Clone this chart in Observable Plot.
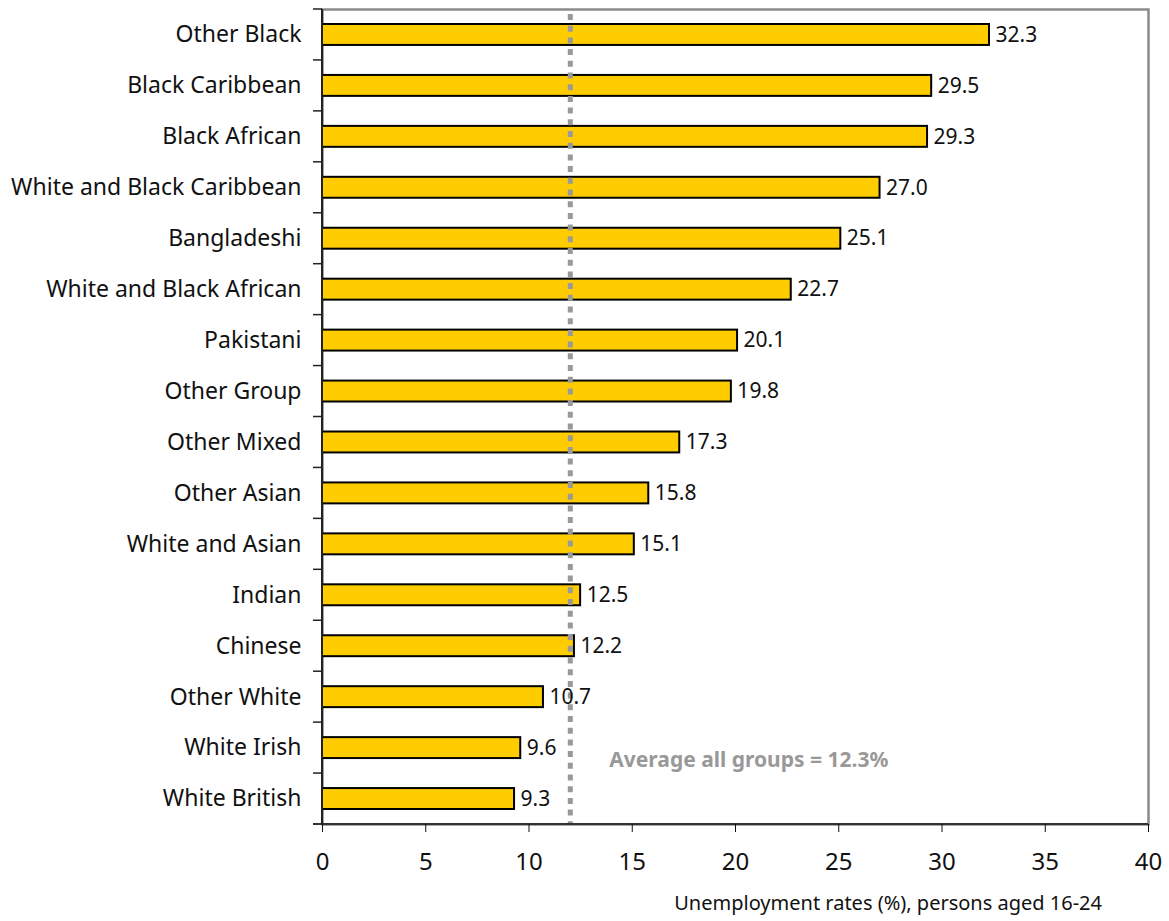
<!DOCTYPE html>
<html><head><meta charset="utf-8">
<script src="https://cdn.jsdelivr.net/npm/d3@7"></script>
<script src="https://cdn.jsdelivr.net/npm/@observablehq/plot@0.6"></script>
<style>
body{margin:0;background:#fff;font-family:"Noto Sans",sans-serif;}
#caption{font-size:20px;color:#111;text-align:right;width:1169px;box-sizing:border-box;padding-right:67px;margin-top:11px;line-height:24px;}
</style></head><body>
<div id="chart"></div>
<div id="caption">Unemployment rates (%), persons aged 16-24</div>
<script>
const groups = ["Other Black","Black Caribbean","Black African","White and Black Caribbean","Bangladeshi","White and Black African","Pakistani","Other Group","Other Mixed","Other Asian","White and Asian","Indian","Chinese","Other White","White Irish","White British"];
const rates = [32.3,29.5,29.3,27.0,25.1,22.7,20.1,19.8,17.3,15.8,15.1,12.5,12.2,10.7,9.6,9.3];
const averageRate = 12.3;   // value quoted in the note
const averageLine = 12;     // where the dotted line is drawn in the picture
const xTicks = [0,5,10,15,20,25,30,35,40];

const data = groups.map((g,i)=>({group:g, rate:rates[i]}));

function axesLines(index, scales, values, dimensions) {
  const y = scales.y, x = scales.x;
  const dom = y.domain();
  const bw = y.bandwidth();
  const x0 = x(0);
  const bottom = dimensions.height - dimensions.marginBottom;
  const g = d3.create("svg:g");
  const ys = dom.map(d => y(d));
  ys.push(y(dom[dom.length-1]) + bw);
  for (const yy of ys) {
    g.append("line").attr("x1", x0 - 9).attr("x2", x0).attr("y1", yy).attr("y2", yy)
      .attr("stroke", "#222").attr("stroke-width", 1.5);
  }
  g.append("line").attr("x1", x0 - 9).attr("x2", dimensions.width - dimensions.marginRight)
    .attr("y1", bottom).attr("y2", bottom).attr("stroke", "#333").attr("stroke-width", 2);
  g.append("line").attr("x1", x0).attr("x2", x0)
    .attr("y1", dimensions.marginTop).attr("y2", bottom).attr("stroke", "#222").attr("stroke-width", 2);
  return g.node();
}

const chart = Plot.plot({
  width: 1169,
  height: 880,
  marginLeft: 322,
  marginRight: 21,
  marginTop: 9,
  marginBottom: 56,
  style: {fontFamily: '"Noto Sans", sans-serif', color: "#111", background: "#fff"},
  x: {domain: [0, 40], ticks: xTicks},
  y: {domain: groups, padding: 0, round: false},
  marks: [
    Plot.frame({stroke: "#8a8a8a", strokeWidth: 2.5}),
    Plot.barX(data, {x: "rate", y: "group", fill: "#ffcc00", stroke: "#000", strokeWidth: 2, insetTop: 15, insetBottom: 15}),
    Plot.ruleX([averageLine], {stroke: "#999", strokeWidth: 5, strokeDasharray: "6,5.7", insetTop: 5}),
    Plot.text(data, {x: "rate", y: "group", text: d => d.rate.toFixed(1), textAnchor: "start", dx: 6, fontSize: 21, fill: "#111"}),
    Plot.text([`Average all groups = ${averageRate}%`], {x: () => averageLine, y: () => "White Irish", text: d => d, textAnchor: "start", dx: 39, dy: 12, fontSize: 21, fontWeight: "bold", fill: "#999"}),
    axesLines,
    Plot.axisY({tickSize: 0, tickPadding: 21, fontSize: 23, label: null}),
    Plot.axisX({ticks: xTicks, tickSize: 8, tickPadding: 20, fontSize: 24, label: null})
  ]
});
document.getElementById("chart").appendChild(chart);
</script>
</body></html>
